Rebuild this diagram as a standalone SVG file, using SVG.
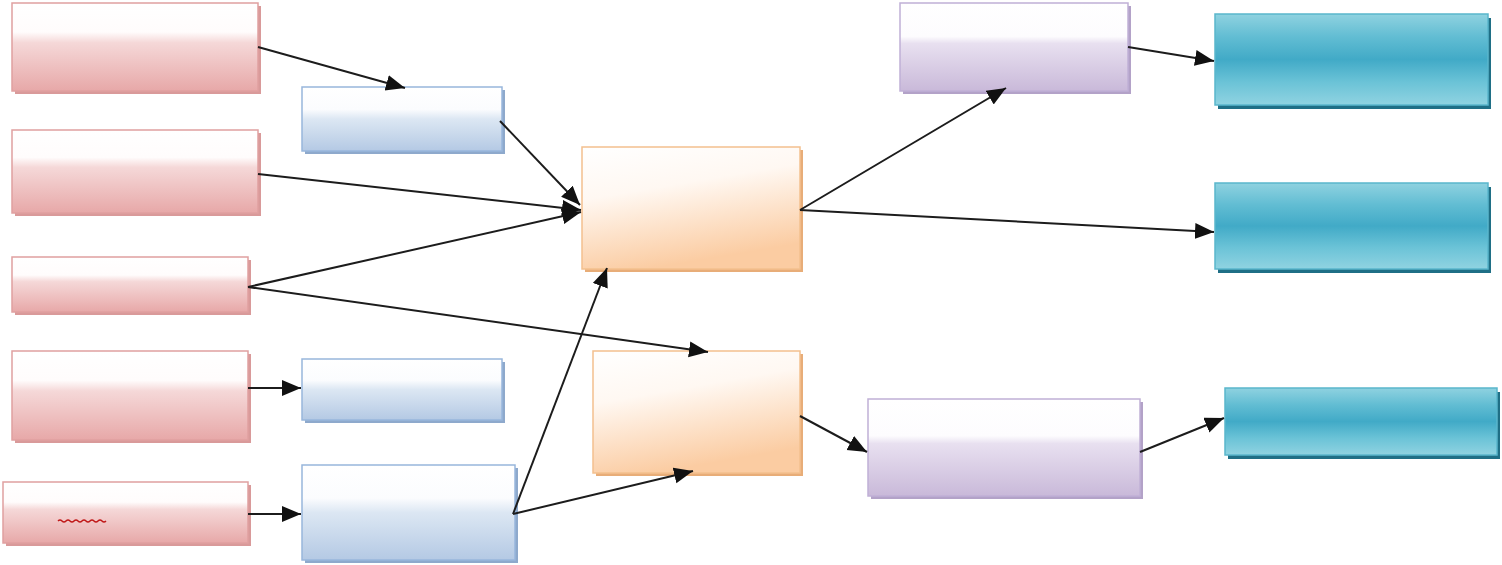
<svg xmlns="http://www.w3.org/2000/svg" width="1502" height="565" viewBox="0 0 1502 565">
<defs>
<linearGradient id="gRed" x1="0" y1="0" x2="0" y2="1">
<stop offset="0" stop-color="#ffffff"/>
<stop offset="0.33" stop-color="#fffcfc"/>
<stop offset="0.45" stop-color="#f5d8d8"/>
<stop offset="1" stop-color="#e7a8a8"/>
</linearGradient>
<linearGradient id="gBlue" x1="0" y1="0" x2="0" y2="1">
<stop offset="0" stop-color="#ffffff"/>
<stop offset="0.35" stop-color="#fbfcfe"/>
<stop offset="0.5" stop-color="#dce7f3"/>
<stop offset="1" stop-color="#b4c9e4"/>
</linearGradient>
<linearGradient id="gOrange" x1="0" y1="0" x2="0.3" y2="1">
<stop offset="0" stop-color="#ffffff"/>
<stop offset="0.4" stop-color="#fff8f2"/>
<stop offset="1" stop-color="#fbcca2"/>
</linearGradient>
<linearGradient id="gPurple" x1="0" y1="0" x2="0" y2="1">
<stop offset="0" stop-color="#ffffff"/>
<stop offset="0.38" stop-color="#fdfcfe"/>
<stop offset="0.46" stop-color="#e8e0f0"/>
<stop offset="1" stop-color="#c9b9d9"/>
</linearGradient>
<linearGradient id="gTeal" x1="0" y1="0" x2="0" y2="1">
<stop offset="0" stop-color="#8fd2e0"/>
<stop offset="0.25" stop-color="#62bdd3"/>
<stop offset="0.5" stop-color="#41aac7"/>
<stop offset="0.75" stop-color="#6bc3d7"/>
<stop offset="1" stop-color="#90d3e1"/>
</linearGradient>
<marker id="arr" markerUnits="userSpaceOnUse" markerWidth="22" markerHeight="18" refX="19" refY="8" orient="auto">
<path d="M0,0 L19,8 L0,16 Z" fill="#111"/>
</marker>
</defs>
<style>
.red{fill:url(#gRed);stroke:#e0a0a0;stroke-width:1.5}
.redS{fill:#d99a9a}
.blue{fill:url(#gBlue);stroke:#98b6dc;stroke-width:1.5}
.blueS{fill:#8ea9cc}
.orange{fill:url(#gOrange);stroke:#f3c08e;stroke-width:1.5}
.orangeS{fill:#e8ad78}
.purple{fill:url(#gPurple);stroke:#c0b0d6;stroke-width:1.5}
.purpleS{fill:#b3a2c8}
.teal{fill:url(#gTeal);stroke:#5ab6cc;stroke-width:1.5}
.tealS{fill:#1f6f86}
.conn path{fill:none;stroke:#1c1c1c;stroke-width:2;marker-end:url(#arr)}
</style>

<g id="r1"><rect class="redS" x="15" y="6" width="246" height="88"/><rect class="red" x="12" y="3" width="246" height="88"/></g>
<g id="r2"><rect class="redS" x="15" y="133" width="246" height="83"/><rect class="red" x="12" y="130" width="246" height="83"/></g>
<g id="r3"><rect class="redS" x="15" y="260" width="236" height="55"/><rect class="red" x="12" y="257" width="236" height="55"/></g>
<g id="r4"><rect class="redS" x="15" y="354" width="236" height="89"/><rect class="red" x="12" y="351" width="236" height="89"/></g>
<g id="r5"><rect class="redS" x="6" y="485" width="245" height="61"/><rect class="red" x="3" y="482" width="245" height="61"/>
<path d="M58,521 q2,-2 4,0 t4,0 t4,0 t4,0 t4,0 t4,0 t4,0 t4,0 t4,0 t4,0 t4,0 t4,0" fill="none" stroke="#c01818" stroke-width="1.5"/></g>

<g id="b1"><rect class="blueS" x="305" y="90" width="200" height="64"/><rect class="blue" x="302" y="87" width="200" height="64"/></g>
<g id="b2"><rect class="blueS" x="305" y="362" width="200" height="61"/><rect class="blue" x="302" y="359" width="200" height="61"/></g>
<g id="b3"><rect class="blueS" x="305" y="468" width="213" height="95"/><rect class="blue" x="302" y="465" width="213" height="95"/></g>

<g id="o1"><rect class="orangeS" x="585" y="150" width="218" height="122"/><rect class="orange" x="582" y="147" width="218" height="122"/></g>
<g id="o2"><rect class="orangeS" x="596" y="354" width="207" height="122"/><rect class="orange" x="593" y="351" width="207" height="122"/></g>

<g id="p1"><rect class="purpleS" x="903" y="6" width="228" height="88"/><rect class="purple" x="900" y="3" width="228" height="88"/></g>
<g id="p2"><rect class="purpleS" x="871" y="402" width="272" height="97"/><rect class="purple" x="868" y="399" width="272" height="97"/></g>

<g id="t1"><rect class="tealS" x="1218" y="18" width="273" height="91"/><rect class="teal" x="1215" y="14" width="273" height="91"/></g>
<g id="t2"><rect class="tealS" x="1218" y="187" width="273" height="86"/><rect class="teal" x="1215" y="183" width="273" height="86"/></g>
<g id="t3"><rect class="tealS" x="1228" y="392" width="272" height="67"/><rect class="teal" x="1225" y="388" width="272" height="67"/></g>

<g id="connectors" class="conn">
<path d="M258,47 L405,88"/>
<path d="M500,121 L580,205"/>
<path d="M258,174 L581,210"/>
<path d="M248,287 L581,212"/>
<path d="M248,287 L708,352"/>
<path d="M248,388 L301,388"/>
<path d="M248,514 L301,514"/>
<path d="M513,514 L607,268"/>
<path d="M513,514 L693,471"/>
<path d="M800,210 L1006,88"/>
<path d="M800,210 L1214,232"/>
<path d="M1128,47 L1214,61"/>
<path d="M800,416 L867,452"/>
<path d="M1140,452 L1224,418"/>
</g>
</svg>
